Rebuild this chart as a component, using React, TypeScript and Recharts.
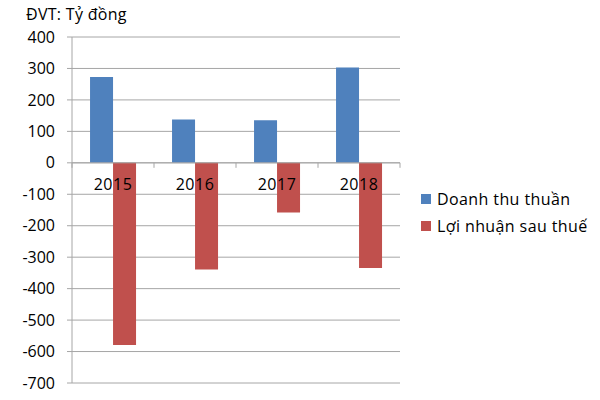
import { Bar, BarChart, CartesianGrid, ReferenceLine, XAxis, YAxis } from "recharts";

const years = ["2015", "2016", "2017", "2018"];
const revenue = [273, 138, 135, 303];
const profit = [-579, -339, -158, -334];
const yTicks = [-700, -600, -500, -400, -300, -200, -100, 0, 100, 200, 300, 400];
const seriesNames = ["Doanh thu thuần", "Lợi nhuận sau thuế"];

const data = years.map((year, i) => ({ year, revenue: revenue[i], profit: profit[i] }));

const W = 600;
const H = 400;
const X_HEIGHT = 1;
const M = { top: 37, right: 200, bottom: 16, left: 12 };
const Y_WIDTH = 60;
const plotH = H - M.top - M.bottom - X_HEIGHT;
const plotW = W - M.right - M.left - Y_WIDTH;
const yMin = -700;
const yMax = 400;
const zeroY = M.top + (plotH * yMax) / (yMax - yMin);
const band = plotW / years.length;

const FONT = "'Open Sans', Arial, sans-serif";
const GRID = "#a6a6a6";
const BLUE = "#4f81bd";
const RED = "#c0504d";

function YearTick(props: any) {
  const { x, payload, index } = props;
  return (
    <g>
      <line x1={x - band / 2} x2={x - band / 2} y1={zeroY} y2={zeroY + 5} stroke={GRID} />
      {index === years.length - 1 && <line x1={x + band / 2} x2={x + band / 2} y1={zeroY} y2={zeroY + 5} stroke={GRID} />}
      <text x={x} y={zeroY + 27} textAnchor="middle" fontSize={16} letterSpacing={0.5} fill="#000" fontFamily={FONT}>
        {payload.value}
      </text>
    </g>
  );
}

function LegendBox() {
  const colors = [BLUE, RED];
  return (
    <div style={{ position: "absolute", left: 421, top: 185, fontFamily: FONT, fontSize: 16, letterSpacing: 0.4, color: "#000" }}>
      {seriesNames.map((name, i) => (
        <div key={name} style={{ display: "flex", alignItems: "center", height: 27, whiteSpace: "nowrap" }}>
          <span style={{ display: "inline-block", width: 10, height: 10, background: colors[i], marginRight: 6 }} />
          {name}
        </div>
      ))}
    </div>
  );
}

export default function App() {
  return (
    <div style={{ position: "fixed", left: 0, top: 0, width: W, height: H, background: "#fff" }}>
      <BarChart width={W} height={H} data={data} margin={M} barCategoryGap="22%" barGap={0}>
        <CartesianGrid vertical={false} stroke={GRID} />
        <YAxis
          width={Y_WIDTH}
          domain={[yMin, yMax]}
          ticks={yTicks}
          interval={0}
          axisLine={{ stroke: GRID }}
          tickLine={{ stroke: GRID }}
          tickSize={5}
          tickMargin={12}
          tick={{ fill: "#000", fontSize: 16, fontFamily: FONT }}
        />
        <Bar dataKey="revenue" name={seriesNames[0]} fill={BLUE} isAnimationActive={false} />
        <Bar dataKey="profit" name={seriesNames[1]} fill={RED} isAnimationActive={false} />
        <ReferenceLine y={0} stroke={GRID} />
        <XAxis dataKey="year" height={X_HEIGHT} axisLine={false} tickLine={false} tick={<YearTick />} interval={0} />
      </BarChart>
      <div style={{ position: "absolute", left: 26, top: 3, fontFamily: FONT, fontSize: 16, letterSpacing: 0.3, color: "#000" }}>ĐVT: Tỷ đồng</div>
      <LegendBox />
    </div>
  );
}
